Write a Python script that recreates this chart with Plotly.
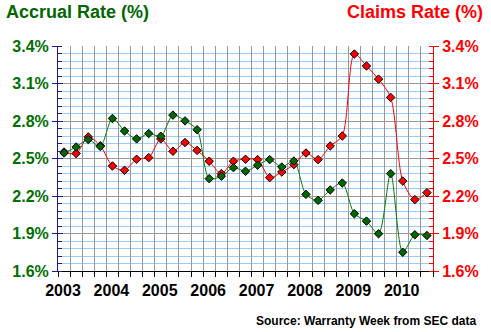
import plotly.graph_objects as go

# Quarterly data, 2003 Q1 through 2010 Q3
quarters = [f"{y} Q{q}" for y in range(2003, 2011) for q in range(1, 5)][:31]
accrual_rate = [2.544, 2.592, 2.652, 2.596, 2.820, 2.720, 2.657, 2.700,
                2.678, 2.847, 2.801, 2.730, 2.339, 2.358, 2.427, 2.398,
                2.446, 2.491, 2.432, 2.480, 2.213, 2.165, 2.248, 2.304,
                2.058, 1.999, 1.898, 2.379, 1.750, 1.890, 1.884]
claims_rate = [2.552, 2.540, 2.673, 2.602, 2.440, 2.406, 2.494, 2.507,
               2.657, 2.558, 2.628, 2.565, 2.478, 2.379, 2.478, 2.494,
               2.491, 2.347, 2.392, 2.451, 2.544, 2.491, 2.600, 2.680,
               3.336, 3.240, 3.135, 2.989, 2.320, 2.171, 2.227]
year_labels = [str(y) for y in range(2003, 2011)]
y_ticks = [1.6, 1.9, 2.2, 2.5, 2.8, 3.1, 3.4]

# each quarter occupies one unit on the x axis; points sit mid-quarter
xpos = [i + 0.5 for i in range(len(quarters))]
grid_vals = list(range(0, len(quarters) + 1))
grid_text = [year_labels[v // 4] if v % 4 == 0 and v // 4 < len(year_labels) else "" for v in grid_vals]

FONT = "Arial, Liberation Sans, sans-serif"
GREEN_TXT = "#007000"
RED = "#ff0000"
NAVY = "#1a1a8c"
Y_RANGE = [1.6, 3.4]

fig = go.Figure()
# both series share the same scale; the accrual series is drawn last so it sits on top
fig.add_trace(go.Scatter(
    x=xpos, y=claims_rate, text=quarters, name="Claims Rate", yaxis="y",
    mode="lines+markers", line=dict(color=RED, width=1, shape="spline", smoothing=0.8),
    marker=dict(symbol="diamond", size=6.5, color=RED, line=dict(color="black", width=1)),
))
fig.add_trace(go.Scatter(
    x=xpos, y=accrual_rate, text=quarters, name="Accrual Rate", yaxis="y2",
    mode="lines+markers", line=dict(color="#008000", width=1, shape="spline", smoothing=0.8),
    marker=dict(symbol="diamond", size=6.5, color="#006600", line=dict(color="black", width=1)),
))
# empty traces that carry the inner halves of the major ticks on each side
fig.add_trace(go.Scatter(x=[None], y=[None], yaxis="y3", showlegend=False, hoverinfo="skip"))
fig.add_trace(go.Scatter(x=[None], y=[None], yaxis="y4", showlegend=False, hoverinfo="skip"))

fig.update_layout(
    width=491, height=332,
    margin=dict(l=55, r=56, t=46, b=61),
    paper_bgcolor="white", plot_bgcolor="white",
    showlegend=False,
    xaxis=dict(
        range=[0, len(quarters)], tickmode="array", tickvals=grid_vals, ticktext=grid_text,
        showgrid=True, gridcolor="#999999", gridwidth=1,
        ticks="outside", ticklen=5, tickcolor="black",
        showline=True, linecolor="black", linewidth=1, zeroline=False,
        ticklabelshift=5,
        tickfont=dict(family=FONT, size=16, color="black", weight="bold"),
    ),
    yaxis=dict(
        range=Y_RANGE, tickmode="array", tickvals=y_ticks,
        ticktext=[f"{v:.1f}%" for v in y_ticks],
        showgrid=True, gridcolor="#999999", gridwidth=1, zeroline=False,
        ticks="outside", ticklen=5, tickcolor=NAVY,
        showline=True, linecolor=NAVY, linewidth=1,
        tickfont=dict(family=FONT, size=16, color=GREEN_TXT, weight="bold"),
        minor=dict(dtick=0.06, tick0=1.6, showgrid=True, gridcolor="#99ccff",
                   ticks="inside", ticklen=4, tickcolor=NAVY),
    ),
    yaxis2=dict(
        range=Y_RANGE, overlaying="y", side="right", tickmode="array", tickvals=y_ticks,
        ticktext=[f"{v:.1f}%" for v in y_ticks],
        showgrid=False, zeroline=False,
        ticks="outside", ticklen=5, tickcolor=RED,
        showline=True, linecolor=RED, linewidth=1,
        tickfont=dict(family=FONT, size=16, color=RED, weight="bold"),
        minor=dict(dtick=0.06, tick0=1.6, ticks="inside", ticklen=4, tickcolor=RED),
    ),
    yaxis3=dict(
        range=Y_RANGE, overlaying="y", side="left", tickmode="array", tickvals=y_ticks,
        showticklabels=False, showgrid=False, zeroline=False, showline=False,
        ticks="inside", ticklen=5, tickcolor=NAVY,
    ),
    yaxis4=dict(
        range=Y_RANGE, overlaying="y", side="right", tickmode="array", tickvals=y_ticks,
        showticklabels=False, showgrid=False, zeroline=False, showline=False,
        ticks="inside", ticklen=5, tickcolor=RED,
    ),
)

fig.add_annotation(text="Accrual Rate (%)", xref="paper", yref="paper",
                   x=(0 - 55) / 380, y=(271 - 12) / 225, xanchor="left", yanchor="middle",
                   showarrow=False, font=dict(family=FONT, size=18, color="#006600", weight="bold"))
fig.add_annotation(text="Claims Rate (%)", xref="paper", yref="paper",
                   x=(488 - 55) / 380, y=(271 - 12) / 225, xanchor="right", yanchor="middle",
                   showarrow=False, font=dict(family=FONT, size=18, color=RED, weight="bold"))
fig.add_annotation(text="Source: Warranty Week from SEC data", xref="paper", yref="paper",
                   x=(481 - 55) / 380, y=(271 - 321) / 225, xanchor="right", yanchor="middle",
                   showarrow=False, font=dict(family=FONT, size=12, color="black", weight="bold"))

fig.write_html("out.html")
